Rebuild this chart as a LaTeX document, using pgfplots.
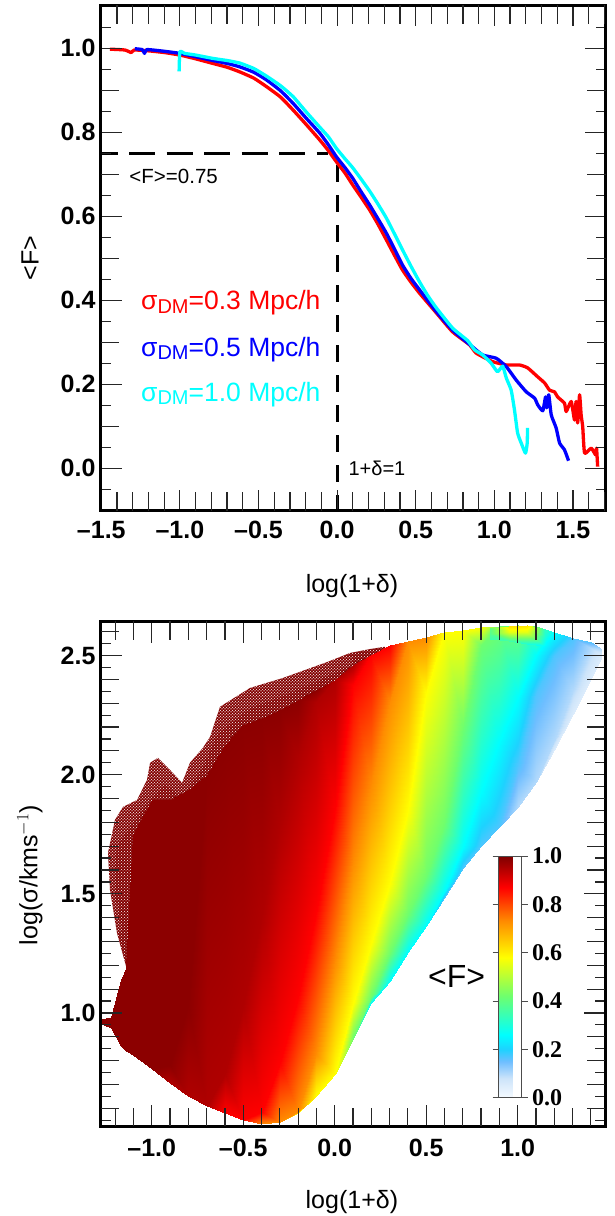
\documentclass[border=0pt]{standalone}
\usepackage{fontspec}
\setmainfont{Liberation Sans}
\newfontfamily\cbfont{Liberation Serif}
\usepackage{pgfplots}
\usepackage{pgfplotstable}
\pgfplotsset{compat=1.18}
\usetikzlibrary{patterns}
\definecolor{dred}{RGB}{130,0,0}
\definecolor{cy}{RGB}{0,255,255}
\definecolor{rd}{RGB}{255,0,0}
\definecolor{bl}{RGB}{0,0,255}
\pgfplotsset{
 fcmap/.style={colormap={fcm}{rgb255(0)=(245,250,255); rgb255(8)=(205,228,250); rgb255(15)=(110,190,255); rgb255(20)=(30,210,255); rgb255(26)=(0,255,255); rgb255(42)=(110,255,110); rgb255(58)=(255,255,0); rgb255(73)=(255,140,0); rgb255(87)=(255,0,0); rgb255(100)=(125,0,0)}},
 panel/.style={scale only axis, anchor=south west, axis on top, clip=true,
  axis line style={line width=2.6pt}, tick style={line width=1.2pt,color=black!85},
  tick align=inside, major tick length=21pt, minor tick length=10pt,
  extra tick style={major tick length=18.5pt},
  ticklabel style={font=\fontsize{25}{29}\selectfont\bfseries},
  yticklabel style={xshift=-1.5pt},
  label style={font=\fontsize{25}{30}\selectfont},
 },
 curve/.style={line width=3.3pt,line join=round,smooth,tension=0.3},
}
\pgfplotstableread[row sep=\\]{
x y f\\
-1.28 .954 .05\\-1.28 .954 .10\\-1.28 .954 .17\\-1.28 .954 .26\\-1.28 .954 .42\\-1.28 .954 .58\\-1.28 .954 .73\\-1.28 .954 .87\\-1.28 .954 .95\\-1.28 .954 .985\\-1.28 .975 .985\\
-1.22 .937 .05\\-1.22 .937 .10\\-1.22 .937 .17\\-1.22 .937 .26\\-1.22 .937 .42\\-1.22 .937 .58\\-1.22 .937 .73\\-1.22 .937 .87\\-1.22 .937 .95\\-1.22 .937 .985\\-1.22 .983 .985\\
-1.17 .861 .05\\-1.17 .861 .10\\-1.17 .861 .17\\-1.17 .861 .26\\-1.17 .861 .42\\-1.17 .861 .58\\-1.17 .861 .73\\-1.17 .861 .87\\-1.17 .861 .95\\-1.17 .861 .985\\-1.17 1.139 .985\\
-1.14 .840 .05\\-1.14 .840 .10\\-1.14 .840 .17\\-1.14 .840 .26\\-1.14 .840 .42\\-1.14 .840 .58\\-1.14 .840 .73\\-1.14 .840 .87\\-1.14 .840 .95\\-1.14 .840 .985\\-1.14 1.189 .985\\
-1.1 .824 .05\\-1.1 .824 .10\\-1.1 .824 .17\\-1.1 .824 .26\\-1.1 .824 .42\\-1.1 .824 .58\\-1.1 .824 .73\\-1.1 .824 .87\\-1.1 .824 .95\\-1.1 .824 .985\\-1.1 1.747 .985\\
-1.0 .765 .05\\-1.0 .765 .10\\-1.0 .765 .17\\-1.0 .765 .26\\-1.0 .765 .42\\-1.0 .765 .58\\-1.0 .765 .73\\-1.0 .765 .87\\-1.0 .765 .95\\-1.0 .765 .985\\-1.0 1.894 .985\\
-.9 .708 .05\\-.9 .708 .10\\-.9 .708 .17\\-.9 .708 .26\\-.9 .708 .42\\-.9 .708 .58\\-.9 .708 .73\\-.9 .708 .87\\-.9 .708 .95\\-.9 .782 .985\\-.9 1.894 .985\\
-.8 .652 .05\\-.8 .652 .10\\-.8 .652 .17\\-.8 .652 .26\\-.8 .652 .42\\-.8 .652 .58\\-.8 .652 .73\\-.8 .652 .87\\-.8 .652 .95\\-.8 1.029 .985\\-.8 1.936 .985\\
-.7 .610 .05\\-.7 .610 .10\\-.7 .610 .17\\-.7 .610 .26\\-.7 .610 .42\\-.7 .610 .58\\-.7 .610 .73\\-.7 .610 .87\\-.7 .610 .95\\-.7 1.999 .985\\-.7 1.999 .985\\
-.6 .580 .05\\-.6 .580 .10\\-.6 .580 .17\\-.6 .580 .26\\-.6 .580 .42\\-.6 .580 .58\\-.6 .580 .73\\-.6 .580 .87\\-.6 .744 .95\\-.6 2.125 .985\\-.6 2.125 .985\\
-.5 .551 .05\\-.5 .551 .10\\-.5 .551 .17\\-.5 .551 .26\\-.5 .551 .42\\-.5 .551 .58\\-.5 .551 .73\\-.5 .551 .87\\-.5 1.025 .95\\-.5 2.209 .985\\-.5 2.209 .985\\
-.4 .534 .05\\-.4 .534 .10\\-.4 .534 .17\\-.4 .534 .26\\-.4 .534 .42\\-.4 .534 .58\\-.4 .534 .73\\-.4 .584 .87\\-.4 1.403 .95\\-.4 2.238 .985\\-.4 2.238 .985\\
-.3 .542 .05\\-.3 .542 .10\\-.3 .542 .17\\-.3 .542 .26\\-.3 .542 .42\\-.3 .542 .58\\-.3 .542 .73\\-.3 .790 .87\\-.3 1.785 .95\\-.3 2.272 .985\\-.3 2.272 .985\\
-.2 .580 .05\\-.2 .580 .10\\-.2 .580 .17\\-.2 .580 .26\\-.2 .580 .42\\-.2 .580 .58\\-.2 .584 .73\\-.2 1.063 .87\\-.2 2.071 .95\\-.2 2.314 .985\\-.2 2.314 .985\\
-.1 .652 .05\\-.1 .652 .10\\-.1 .652 .17\\-.1 .652 .26\\-.1 .652 .42\\-.1 .652 .58\\-.1 .828 .73\\-.1 1.416 .87\\-.1 2.306 .95\\-.1 2.356 .985\\-.1 2.356 .985\\
0 .744 .05\\0 .744 .10\\0 .744 .17\\0 .744 .26\\0 .744 .42\\0 .744 .58\\0 1.218 .73\\0 1.852 .87\\0 2.398 .95\\0 2.398 .985\\0 2.398 .985\\
.1 .895 .05\\.1 .895 .10\\.1 .895 .17\\.1 .895 .26\\.1 .895 .42\\.1 1.038 .58\\.1 1.630 .73\\.1 2.377 .87\\.1 2.461 .95\\.1 2.461 .985\\.1 2.461 .985\\
.2 1.042 .05\\.2 1.042 .10\\.2 1.042 .17\\.2 1.042 .26\\.2 1.067 .42\\.2 1.290 .58\\.2 1.953 .73\\.2 2.503 .87\\.2 2.503 .95\\.2 2.503 .985\\.2 2.503 .985\\
.3 1.134 .05\\.3 1.134 .10\\.3 1.134 .17\\.3 1.134 .26\\.3 1.252 .42\\.3 1.546 .58\\.3 2.306 .73\\.3 2.545 .87\\.3 2.545 .95\\.3 2.545 .985\\.3 2.545 .985\\
.4 1.256 .05\\.4 1.256 .10\\.4 1.256 .17\\.4 1.256 .26\\.4 1.416 .42\\.4 1.852 .58\\.4 2.562 .73\\.4 2.562 .87\\.4 2.562 .95\\.4 2.562 .985\\.4 2.562 .985\\
.5 1.365 .05\\.5 1.365 .10\\.5 1.365 .17\\.5 1.365 .26\\.5 1.575 .42\\.5 2.339 .58\\.5 2.579 .73\\.5 2.579 .87\\.5 2.579 .95\\.5 2.579 .985\\.5 2.579 .985\\
.6 1.483 .05\\.6 1.483 .10\\.6 1.483 .17\\.6 1.508 .26\\.6 1.789 .42\\.6 2.600 .58\\.6 2.600 .73\\.6 2.600 .87\\.6 2.600 .95\\.6 2.600 .985\\.6 2.600 .985\\
.7 1.609 .05\\.7 1.609 .10\\.7 1.609 .17\\.7 1.697 .26\\.7 2.196 .42\\.7 2.608 .58\\.7 2.608 .73\\.7 2.608 .87\\.7 2.608 .95\\.7 2.608 .985\\.7 2.608 .985\\
.8 1.701 .05\\.8 1.701 .10\\.8 1.701 .17\\.8 1.928 .26\\.8 2.545 .42\\.8 2.620 .58\\.8 2.620 .73\\.8 2.620 .87\\.8 2.620 .95\\.8 2.620 .985\\.8 2.620 .985\\
.9 1.781 .05\\.9 1.781 .10\\.9 1.781 .17\\.9 2.138 .26\\.9 2.625 .42\\.9 2.625 .58\\.9 2.625 .73\\.9 2.625 .87\\.9 2.625 .95\\.9 2.625 .985\\.9 2.625 .985\\
1.0 1.865 .05\\1.0 1.865 .10\\1.0 2.041 .17\\1.0 2.322 .26\\1.0 2.629 .42\\1.0 2.629 .58\\1.0 2.629 .73\\1.0 2.629 .87\\1.0 2.629 .95\\1.0 2.629 .985\\1.0 2.629 .985\\
1.1 1.970 .05\\1.1 1.970 .10\\1.1 2.339 .17\\1.1 2.503 .26\\1.1 2.625 .42\\1.1 2.625 .58\\1.1 2.625 .73\\1.1 2.625 .87\\1.1 2.625 .95\\1.1 2.625 .985\\1.1 2.625 .985\\
1.2 2.104 .05\\1.2 2.142 .10\\1.2 2.499 .17\\1.2 2.600 .26\\1.2 2.600 .42\\1.2 2.600 .58\\1.2 2.600 .73\\1.2 2.600 .87\\1.2 2.600 .95\\1.2 2.600 .985\\1.2 2.600 .985\\
1.3 2.255 .05\\1.3 2.356 .10\\1.3 2.575 .17\\1.3 2.575 .26\\1.3 2.575 .42\\1.3 2.575 .58\\1.3 2.575 .73\\1.3 2.575 .87\\1.3 2.575 .95\\1.3 2.575 .985\\1.3 2.575 .985\\
1.4 2.406 .05\\1.4 2.532 .10\\1.4 2.558 .17\\1.4 2.558 .26\\1.4 2.558 .42\\1.4 2.558 .58\\1.4 2.558 .73\\1.4 2.558 .87\\1.4 2.558 .95\\1.4 2.558 .985\\1.4 2.558 .985\\
1.46 2.499 .05\\1.46 2.528 .10\\1.46 2.528 .17\\1.46 2.528 .26\\1.46 2.528 .42\\1.46 2.528 .58\\1.46 2.528 .73\\1.46 2.528 .87\\1.46 2.528 .95\\1.46 2.528 .985\\1.46 2.528 .985\\
}\meshtab
\pgfplotstableread[row sep=\\]{
x y f\\
.85 2.57 .35\\.85 2.59 .38\\.85 2.615 .40\\
.95 2.56 .35\\.95 2.60 .55\\.95 2.625 .62\\
1.05 2.55 .30\\1.05 2.60 .55\\1.05 2.63 .62\\
1.15 2.54 .25\\1.15 2.58 .30\\1.15 2.61 .32\\
}\toptab
\begin{document}
\begin{tikzpicture}
\path[use as bounding box] (0,0) rectangle (615pt,1216pt);
% ---------- top panel
\begin{axis}[panel, at={(100.5pt,705.3pt)}, width=505pt, height=505.2pt,
 xmin=-1.505, xmax=1.707, ymin=-0.101, ymax=1.102,
 xtick={-1.5,-1,-0.5,0,0.5,1,1.5},
 xticklabels={–1.5,–1.0,–0.5,0.0,0.5,1.0,1.5},
 xticklabel style={yshift=-7pt},
 ytick={0,0.2,0.4,0.6,0.8,1.0},
 yticklabels={0.0,0.2,0.4,0.6,0.8,1.0},
 extra x ticks={-1.4,-1.3,-1.2,-1.1,-0.9,-0.8,-0.7,-0.6,-0.4,-0.3,-0.2,-0.1,0.1,0.2,0.3,0.4,0.6,0.7,0.8,0.9,1.1,1.2,1.3,1.4,1.6,1.7},
 extra x tick labels={},
 extra y ticks={0.1,0.3,0.5,0.7,0.9},
 extra y tick labels={},
 minor ytick={-0.05,0.05,0.15,0.25,0.35,0.45,0.55,0.65,0.75,0.85,0.95,1.05},
 xlabel={log(1+δ)}, ylabel={<F>},
 xlabel style={at={(axis description cs:0.498,-0.149)},anchor=center},
 ylabel style={at={(axis description cs:-0.1397,0.5)},anchor=center},
 ]
\addplot[black,line width=3pt,dash pattern=on 26pt off 11.5pt,dash phase=9pt] coordinates {(-1.505,0.75) (-0.06,0.75)};
\addplot[black,line width=3pt,dash pattern=on 17pt off 13pt] coordinates {(0,0.722) (0,-0.101)};
\addplot[rd,curve] coordinates {(-1.445,.998)(-1.35,.996)(-1.31,.990)(-1.29,.996)(-1.2,.994)(-1.1,.990)(-1.0,.984)(-.9,.975)(-.79,.964)(-.70,.955)(-.62,.944)(-.53,.929)(-.45,.909)(-.36,.884)(-.28,.853)(-.20,.820)(-.111,.782)(-.055,.756)(-.005,.730)(.05,.703)(.0985,.675)(.15,.647)(.207,.615)(.26,.581)(.313,.544)(.365,.507)(.416,.472)(.47,.443)(.524,.417)(.631,.370)(.734,.325)(.842,.294)(.885,.274)(.989,.254)(1.076,.246)(1.16,.246)(1.212,.239)(1.275,.218)(1.32,.203)(1.351,.186)(1.383,.182)(1.402,.170)(1.446,.155)(1.457,.135)(1.489,.159)(1.51,.115)(1.52,.159)(1.53,.108)(1.542,.175)(1.552,.127)(1.562,.099)(1.574,.036)(1.616,.048)(1.644,.032)(1.65,.048)(1.657,.004)};
\addplot[bl,curve] coordinates {(-1.287,.999)(-1.24,.997)(-1.225,.988)(-1.21,.997)(-1.1,.993)(-1.0,.988)(-.9,.980)(-.79,.971)(-.70,.964)(-.62,.956)(-.53,.943)(-.45,.925)(-.36,.899)(-.28,.869)(-.20,.835)(-.11,.798)(-.055,.770)(-.005,.742)(.05,.716)(.0985,.691)(.15,.660)(.207,.627)(.26,.594)(.313,.560)(.365,.522)(.416,.484)(.47,.452)(.524,.425)(.631,.373)(.734,.329)(.842,.295)(.925,.270)(1.012,.262)(1.076,.242)(1.139,.210)(1.203,.182)(1.256,.167)(1.276,.151)(1.308,.137)(1.326,.170)(1.333,.144)(1.346,.175)(1.362,.127)(1.393,.096)(1.415,.060)(1.446,.044)(1.472,.018)};
\addplot[cy,curve] coordinates {(-1.005,.945)(-1.0,.992)(-.97,.988)(-.9,.984)(-.79,.976)(-.70,.971)(-.62,.965)(-.53,.952)(-.45,.934)(-.36,.911)(-.28,.885)(-.20,.850)(-.11,.812)(-.055,.789)(-.005,.762)(.05,.737)(.0985,.716)(.15,.690)(.207,.660)(.26,.629)(.313,.596)(.365,.558)(.416,.520)(.47,.481)(.524,.444)(.575,.412)(.631,.382)(.734,.334)(.83,.304)(.874,.282)(.925,.270)(.98,.250)(1.02,.230)(1.053,.243)(1.076,.215)(1.107,.186)(1.128,.139)(1.148,.084)(1.171,.060)(1.198,.036)(1.209,.060)(1.211,.096)};
\node[anchor=base west,inner sep=0pt,font=\fontsize{20.5}{24}\selectfont] at (rel axis cs:0.057,0.6467) {<F>=0.75};
\node[anchor=base west,inner sep=0pt,font=\fontsize{20}{24}\selectfont] at (rel axis cs:0.4909,0.0693) {1+δ=1};
\node[anchor=base west,inner sep=0pt,rd,font=\fontsize{26.5}{30}\selectfont] at (rel axis cs:0.0802,0.3973) {σ\raisebox{-3.3pt}{\fontsize{20}{24}\selectfont DM}=0.3 Mpc/h};
\node[anchor=base west,inner sep=0pt,bl,font=\fontsize{26.5}{30}\selectfont] at (rel axis cs:0.0802,0.3062) {σ\raisebox{-3.3pt}{\fontsize{20}{24}\selectfont DM}=0.5 Mpc/h};
\node[anchor=base west,inner sep=0pt,cy,font=\fontsize{26.5}{30}\selectfont] at (rel axis cs:0.0802,0.2158) {σ\raisebox{-3.3pt}{\fontsize{20}{24}\selectfont DM}=1.0 Mpc/h};
\end{axis}
% ---------- bottom panel
\begin{axis}[panel, fcmap, at={(100.5pt,89.5pt)}, width=504.8pt, height=505pt,
 xmin=-1.28, xmax=1.479, ymin=0.5235, ymax=2.643,
 point meta min=0, point meta max=1,
 xtick={-1,-0.5,0,0.5,1},
 xticklabels={–1.0,–0.5,0.0,0.5,1.0},
 xticklabel style={yshift=-9pt},
 ytick={1,1.5,2,2.5},
 yticklabels={1.0,1.5,2.0,2.5},
 extra x ticks={-1.2,-1.1,-0.9,-0.8,-0.7,-0.6,-0.4,-0.3,-0.2,-0.1,0.1,0.2,0.3,0.4,0.6,0.7,0.8,0.9,1.1,1.2,1.3,1.4},
 extra x tick labels={},
 extra y ticks={0.6,0.7,0.8,0.9,1.1,1.2,1.3,1.4,1.6,1.7,1.8,1.9,2.1,2.2,2.3,2.4,2.6},
 extra y tick labels={},
 minor ytick={0.55,0.65,0.75,0.85,0.95,1.05,1.15,1.25,1.35,1.45,1.55,1.65,1.75,1.85,1.95,2.05,2.15,2.25,2.35,2.45,2.55},
 xlabel={log(1+δ)}, ylabel={log(σ/kms$^{-1}$)},
 xlabel style={at={(axis description cs:0.498,-0.1495)},anchor=center},
 ylabel style={at={(axis description cs:-0.14,0.498)},anchor=center},
 colorbar,
 colorbar style={at={(0.7888,0.057)},anchor=south west,width=23pt,height=241.7pt,
  scale only axis, ymin=0, ymax=1,
  ytick={0,0.2,0.4,0.6,0.8,1.0},
  yticklabels={0.0,0.2,0.4,0.6,0.8,1.0},
  minor ytick={}, extra y ticks={}, extra x ticks={},
  yticklabel pos=right, tick align=outside, major tick length=6pt,
  axis line style={line width=0.8pt,color=black!70},
  tick style={line width=1pt,color=black!70},
  ticklabel style={font=\fontsize{24}{28}\selectfont\cbfont\bfseries},
  yticklabel style={xshift=1pt},
 },
 ]
\addplot[fill=dred,draw=none] coordinates {(-1.135,1.181)(-1.190,1.336)(-1.228,1.516)(-1.239,1.672)(-1.201,1.810)(-1.157,1.865)(-1.080,1.894)(-1.026,1.978)(-1.009,2.050)(-.966,2.071)(-.900,2.020)(-.834,1.966)(-.791,2.050)(-.720,2.113)(-.681,2.159)(-.627,2.285)(-.463,2.364)(-.283,2.406)(-.037,2.474)(.084,2.511)(.198,2.528)(.275,2.537)(.275,2.398)(-.190,2.230)(-.736,1.894)(-1.064,1.684)} --cycle;
\addplot[pattern=crosshatch dots,pattern color=white,draw=none] coordinates {(-1.135,1.181)(-1.190,1.336)(-1.228,1.516)(-1.239,1.672)(-1.201,1.810)(-1.157,1.865)(-1.080,1.894)(-1.026,1.978)(-1.009,2.050)(-.966,2.071)(-.900,2.020)(-.834,1.966)(-.791,2.050)(-.720,2.113)(-.681,2.159)(-.627,2.285)(-.463,2.364)(-.283,2.406)(-.037,2.474)(.084,2.511)(.198,2.528)(.275,2.537)(.275,2.398)(-.190,2.230)(-.736,1.894)(-1.064,1.684)} --cycle;
\addplot[pattern=dots,pattern color=white,draw=none] coordinates {(-1.190,1.336)(-1.228,1.516)(-1.239,1.672)(-1.201,1.810)(-1.157,1.865)(-1.080,1.894)(-1.026,1.978)(-1.009,2.050)(-.966,2.071)(-.900,2.020)(-.834,1.966)(-.791,2.050)(-.720,2.113)(-.681,2.159)(-.627,2.285)(-.463,2.364)(-.283,2.406)(-.037,2.474)(.1,2.50)(.1,2.46)(-.28,2.33)(-.46,2.28)(-.64,2.17)(-.72,2.03)(-.83,1.90)(-.93,1.96)(-1.02,1.88)(-1.1,1.80)(-1.19,1.70)(-1.20,1.50)(-1.16,1.34)} --cycle;
\addplot[surf,shader=interp,mesh/rows=11,mesh/cols=31,mesh/ordering=y varies,point meta=explicit] table[x=x,y=y,meta=f] {\meshtab};
\addplot[surf,shader=interp,mesh/rows=3,mesh/cols=4,mesh/ordering=y varies,point meta=explicit] table[x=x,y=y,meta=f] {\toptab};
\node[anchor=base west,inner sep=0pt,font=\fontsize{32}{36}\selectfont] at (rel axis cs:0.6488,0.2743) {<F>};
\end{axis}
\end{tikzpicture}
\end{document}
